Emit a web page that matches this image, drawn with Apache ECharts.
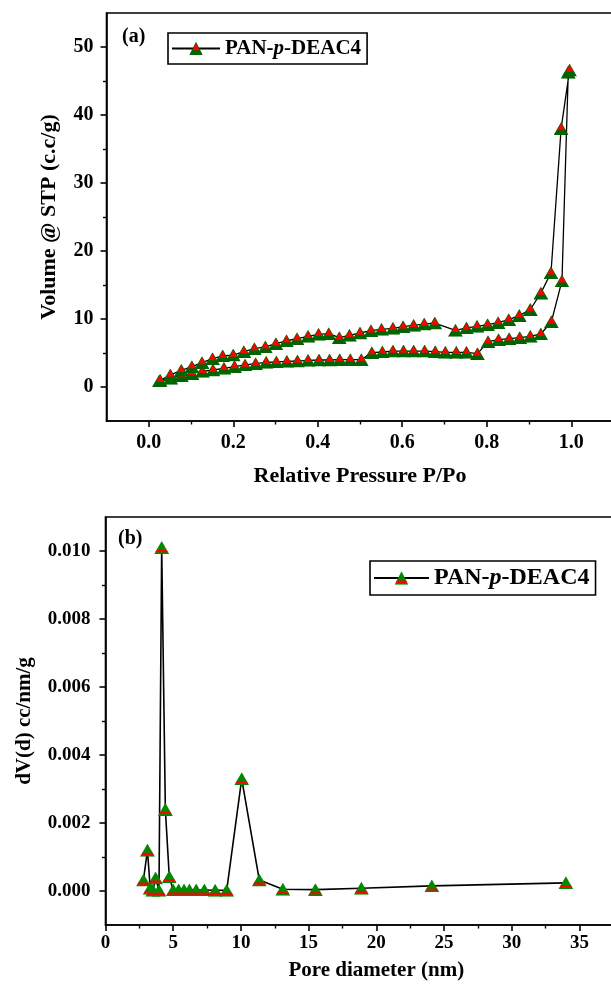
<!DOCTYPE html>
<html>
<head>
<meta charset="utf-8">
<script src="https://cdn.jsdelivr.net/npm/echarts@6/dist/echarts.min.js"></script>
<style>
  html, body { margin: 0; padding: 0; background: #fff; overflow: hidden; }
  #main { width: 611px; height: 994px; }
</style>
</head>
<body>
<div id="main"></div>
<script>
// (a) isotherm, adsorption branch (low -> high P/Po)
var adsP = [0.025, 0.052, 0.077, 0.102, 0.127, 0.152, 0.178, 0.203, 0.228, 0.253, 0.278, 0.302, 0.327, 0.352, 0.377, 0.403, 0.428, 0.452, 0.477, 0.503,
            0.528, 0.553, 0.578, 0.603, 0.627, 0.653, 0.678, 0.702, 0.728, 0.752, 0.778, 0.803, 0.828, 0.853, 0.878, 0.903, 0.928, 0.953, 0.978, 0.993];
var adsV = [0.9, 1.3, 1.7, 2.0, 2.3, 2.5, 2.75, 3.0, 3.24, 3.43, 3.63, 3.68, 3.77, 3.82, 3.92, 3.97, 3.97, 4.02, 4.02, 4.02,
            5.05, 5.15, 5.29, 5.29, 5.29, 5.29, 5.2, 5.1, 5.1, 5.1, 4.9, 6.66, 6.96, 7.1, 7.25, 7.45, 7.8, 9.6, 15.6, 46.3];
// (a) desorption branch (high -> low P/Po)
var desP = [0.996, 0.976, 0.952, 0.928, 0.903, 0.877, 0.852, 0.827, 0.802, 0.777, 0.752, 0.726, 0.677, 0.652, 0.627, 0.602, 0.578, 0.551, 0.526, 0.5,
            0.475, 0.451, 0.426, 0.402, 0.377, 0.351, 0.326, 0.301, 0.276, 0.25, 0.225, 0.2, 0.175, 0.151, 0.126, 0.102, 0.077, 0.051, 0.027];
var desV = [46.6, 38.0, 16.8, 13.8, 11.4, 10.5, 9.9, 9.46, 9.16, 8.93, 8.68, 8.34, 9.41, 9.26, 9.07, 8.87, 8.63, 8.48, 8.28, 7.94,
            7.6, 7.25, 7.84, 7.75, 7.45, 7.1, 6.8, 6.37, 5.9, 5.64, 5.2, 4.7, 4.56, 4.17, 3.58, 2.99, 2.45, 1.77, 0.98];

// (b) pore size distribution
var poreD = [2.8, 3.1, 3.3, 3.5, 3.7, 3.95, 4.15, 4.42, 4.71, 5.0, 5.4, 5.8, 6.2, 6.7, 7.3, 8.1, 8.95, 10.06, 11.36, 13.1, 15.5, 18.9, 24.1, 34.0];
var poreV = [0.00032, 0.0012, 0.00008, 0.00002, 0.00038, 0.00002, 0.0101, 0.0024, 0.00042, 0.00003, 0.00003, 0.00003, 0.00003, 0.00003, 0.00003,
             0.00002, 0.00002, 0.0033, 0.00032, 0.00005, 0.00004, 0.00008, 0.00015, 0.00024];

// ticks
var aXMajor = [0, 0.2, 0.4, 0.6, 0.8, 1.0];
var aXMinor = [0.1, 0.3, 0.5, 0.7, 0.9];
var aYMajor = [0, 10, 20, 30, 40, 50];
var aYMinor = [5, 15, 25, 35, 45];
var bXMajor = [0, 5, 10, 15, 20, 25, 30, 35];
var bXMinor = [2.5, 7.5, 12.5, 17.5, 22.5, 27.5, 32.5];
var bYMajor = [0, 0.002, 0.004, 0.006, 0.008, 0.010];
var bYMinor = [0.001, 0.003, 0.005, 0.007, 0.009];

var seriesName = 'PAN-p-DEAC4';
var FONT = '"Liberation Serif", "Times New Roman", serif';

function svgSymbol(svg) {
    return 'image://data:image/svg+xml;charset=utf-8,' + encodeURIComponent(svg);
}
// red top / green base triangle for (a)
var markA = svgSymbol('<svg xmlns="http://www.w3.org/2000/svg" width="15" height="13" viewBox="0 0 15 13">' +
    '<polygon points="0,13 7.5,0 15,13" fill="#006400"/>' +
    '<polygon points="7.5,1.4 3.6,8.2 11.4,8.2" fill="#ff0000"/></svg>');
// green triangle with red band for (b)
var markB = svgSymbol('<svg xmlns="http://www.w3.org/2000/svg" width="15" height="13" viewBox="0 0 15 13">' +
    '<polygon points="0,13 7.5,0 15,13" fill="#008a00"/>' +
    '<polygon points="2.4,9 12.6,9 13.7,11.2 1.3,11.2" fill="#ff0000"/></svg>');

function zip(xs, ys) {
    return xs.map(function (x, i) { return [x, ys[i]]; });
}

// main axis: line + labels + major ticks
function mainAxis(grid, min, max, major, fmt, pos, lab, name) {
    return {
        type: 'value', gridIndex: grid, min: min, max: max, position: pos,
        axisLine: { show: true, onZero: false, lineStyle: { color: '#000', width: 1.6 } },
        axisTick: { show: true, customValues: major, length: 6, lineStyle: { color: '#000', width: 1.6 } },
        axisLabel: { customValues: major, formatter: fmt, margin: lab.margin, color: '#000', fontFamily: FONT, fontWeight: 'bold', fontSize: lab.size },
        splitLine: { show: false },
        name: name.text, nameGap: name.gap, nameLocation: 'middle',
        nameTextStyle: { color: '#000', fontFamily: FONT, fontWeight: 'bold', fontSize: name.size }
    };
}
// minor ticks only
function minorAxis(grid, min, max, minor, pos) {
    return {
        type: 'value', gridIndex: grid, min: min, max: max, position: pos, offset: 0,
        axisLine: { show: false, onZero: false },
        axisTick: { show: true, customValues: minor, length: 3.5, lineStyle: { color: '#000', width: 1.4 } },
        axisLabel: { show: false },
        splitLine: { show: false }
    };
}

function legendRich(size) {
    return {
        b: { color: '#000', fontFamily: FONT, fontWeight: 'bold', fontSize: size },
        i: { color: '#000', fontFamily: FONT, fontWeight: 'bold', fontStyle: 'italic', fontSize: size }
    };
}
function legendFmt() { return '{b|PAN-}{i|p}{b|-DEAC4}'; }

var chart = echarts.init(document.getElementById('main'));

var option = {
    animation: false,
    backgroundColor: '#fff',
    grid: [
        { left: 106.5, top: 13, width: 507, height: 408, outerBoundsMode: 'none', containLabel: false,
          show: true, borderColor: '#000', borderWidth: 1.6 },
        { left: 105.5, top: 517, width: 541.6, height: 408, outerBoundsMode: 'none', containLabel: false,
          show: true, borderColor: '#000', borderWidth: 1.6 }
    ],
    xAxis: [
        mainAxis(0, -0.1, 1.1, aXMajor, function (v) { return v.toFixed(1); }, 'bottom',
            { margin: 12, size: 20 }, { text: 'Relative Pressure P/Po', gap: 44, size: 22 }),
        minorAxis(0, -0.1, 1.1, aXMinor, 'bottom'),
        mainAxis(1, 0, 40, bXMajor, function (v) { return String(v); }, 'bottom',
            { margin: 9, size: 19 }, { text: 'Pore diameter (nm)', gap: 35, size: 21 }),
        minorAxis(1, 0, 40, bXMinor, 'bottom')
    ],
    yAxis: [
        mainAxis(0, -5, 55, aYMajor, function (v) { return String(v); }, 'left',
            { margin: 13, size: 20 }, { text: 'Volume @ STP (c.c/g)', gap: 46, size: 22 }),
        minorAxis(0, -5, 55, aYMinor, 'left'),
        mainAxis(1, -0.001, 0.011, bYMajor, function (v) { return v.toFixed(3); }, 'left',
            { margin: 15, size: 19 }, { text: 'dV(d) cc/nm/g', gap: 70, size: 21 }),
        minorAxis(1, -0.001, 0.011, bYMinor, 'left')
    ],
    legend: [
        {
            data: [seriesName + ' (a)'], left: 168, top: 33,
            itemWidth: 48, itemHeight: 17, padding: [5, 6, 5, 3],
            borderColor: '#000', borderWidth: 1.6,
            formatter: legendFmt,
            lineStyle: { width: 2, color: '#000' },
            textStyle: { rich: legendRich(21) }
        },
        {
            data: [seriesName + ' (b)'], left: 370, top: 561,
            itemWidth: 55, itemHeight: 17, padding: [5, 6, 5, 3],
            borderColor: '#000', borderWidth: 1.6,
            formatter: legendFmt,
            lineStyle: { width: 2, color: '#000' },
            textStyle: { rich: legendRich(24) }
        }
    ],
    graphic: [
        { type: 'text', left: 122, top: 27, style: { text: '(a)', fill: '#000', font: 'bold 20px ' + FONT } },
        { type: 'text', left: 118, top: 529, style: { text: '(b)', fill: '#000', font: 'bold 20px ' + FONT } }
    ],
    series: [
        {
            name: seriesName + ' (a)', type: 'line', xAxisIndex: 0, yAxisIndex: 0,
            data: zip(adsP, adsV).concat(zip(desP, desV)),
            symbol: markA, symbolSize: [15, 13], showAllSymbol: true,
            color: '#000',
            lineStyle: { color: '#000', width: 1.3 },
            itemStyle: { color: '#000' }
        },
        {
            name: seriesName + ' (b)', type: 'line', xAxisIndex: 2, yAxisIndex: 2,
            data: zip(poreD, poreV),
            symbol: markB, symbolSize: [15, 13], showAllSymbol: true,
            color: '#000',
            lineStyle: { color: '#000', width: 1.6 },
            itemStyle: { color: '#000' }
        }
    ]
};

chart.setOption(option);
</script>
</body>
</html>
